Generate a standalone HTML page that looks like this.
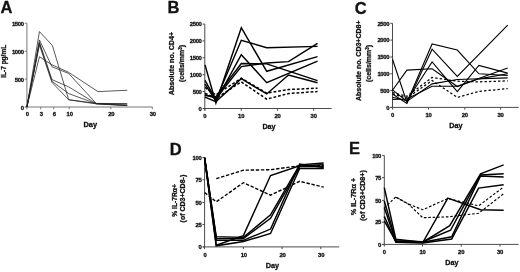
<!DOCTYPE html>
<html><head><meta charset="utf-8"><style>
html,body{margin:0;padding:0;background:#fff;}
body{width:520px;height:272px;overflow:hidden;}
svg{display:block;font-family:"Liberation Sans", sans-serif;will-change:transform;}
text{stroke:#111;stroke-width:0.3px;paint-order:stroke;}
</style></head><body>
<svg width="520" height="272" viewBox="0 0 520 272">
<rect width="520" height="272" fill="#fff"/>
<line x1="25.00" y1="107.00" x2="152.50" y2="107.00" stroke="#777" stroke-width="1"/>
<line x1="26.90" y1="23.20" x2="26.90" y2="107.40" stroke="#777" stroke-width="1"/>
<line x1="26.90" y1="107.00" x2="26.90" y2="109.20" stroke="#777" stroke-width="1"/>
<text x="27.40" y="115.70" font-size="5.9" text-anchor="middle" font-weight="bold" fill="#111" letter-spacing="-0.2">0</text>
<line x1="40.70" y1="107.00" x2="40.70" y2="109.20" stroke="#777" stroke-width="1"/>
<text x="41.20" y="115.70" font-size="5.9" text-anchor="middle" font-weight="bold" fill="#111" letter-spacing="-0.2">3</text>
<line x1="53.70" y1="107.00" x2="53.70" y2="109.20" stroke="#777" stroke-width="1"/>
<text x="54.20" y="115.70" font-size="5.9" text-anchor="middle" font-weight="bold" fill="#111" letter-spacing="-0.2">6</text>
<line x1="69.20" y1="107.00" x2="69.20" y2="109.20" stroke="#777" stroke-width="1"/>
<text x="69.70" y="115.70" font-size="5.9" text-anchor="middle" font-weight="bold" fill="#111" letter-spacing="-0.2">10</text>
<line x1="110.80" y1="107.00" x2="110.80" y2="109.20" stroke="#777" stroke-width="1"/>
<text x="111.30" y="115.70" font-size="5.9" text-anchor="middle" font-weight="bold" fill="#111" letter-spacing="-0.2">20</text>
<line x1="152.30" y1="107.00" x2="152.30" y2="109.20" stroke="#777" stroke-width="1"/>
<text x="152.80" y="115.70" font-size="5.9" text-anchor="middle" font-weight="bold" fill="#111" letter-spacing="-0.2">30</text>
<line x1="24.70" y1="107.00" x2="26.90" y2="107.00" stroke="#777" stroke-width="1"/>
<text x="23.80" y="109.90" font-size="5.9" text-anchor="end" font-weight="bold" fill="#111" letter-spacing="-0.3">0</text>
<line x1="24.70" y1="79.10" x2="26.90" y2="79.10" stroke="#777" stroke-width="1"/>
<text x="23.80" y="82.00" font-size="5.9" text-anchor="end" font-weight="bold" fill="#111" letter-spacing="-0.3">500</text>
<line x1="24.70" y1="51.30" x2="26.90" y2="51.30" stroke="#777" stroke-width="1"/>
<text x="23.80" y="54.20" font-size="5.9" text-anchor="end" font-weight="bold" fill="#111" letter-spacing="-0.3">1000</text>
<line x1="24.70" y1="23.20" x2="26.90" y2="23.20" stroke="#777" stroke-width="1"/>
<text x="23.80" y="26.10" font-size="5.9" text-anchor="end" font-weight="bold" fill="#111" letter-spacing="-0.3">1500</text>
<text x="6.50" y="13.00" font-size="16.5" text-anchor="middle" font-weight="bold" fill="#111">A</text>
<text x="90.30" y="127.00" font-size="7.4" text-anchor="middle" font-weight="bold" fill="#111">Day</text>
<text x="6.20" y="61.30" font-size="6.5" text-anchor="middle" font-weight="bold" fill="#111" transform="rotate(-90 6.2 61.3)">IL-7 pg/mL</text>
<polyline points="26.90,107.00 39.44,31.58 52.40,45.54 68.70,99.74 96.29,103.42 127.22,103.65" fill="none" stroke="#222" stroke-width="0.75" stroke-linejoin="miter" stroke-opacity="1"/>
<polyline points="26.90,107.00 39.44,56.72 51.98,64.82 68.70,72.36 97.96,91.64 127.22,90.24" fill="none" stroke="#222" stroke-width="0.75" stroke-linejoin="miter" stroke-opacity="1"/>
<polyline points="26.90,107.00 39.44,39.96 51.98,66.77 68.70,73.48 96.29,103.54 127.22,104.09" fill="none" stroke="#222" stroke-width="0.75" stroke-linejoin="miter" stroke-opacity="1"/>
<polyline points="26.90,107.00 39.44,42.19 51.98,79.62 68.70,86.89 96.29,103.65 127.22,105.21" fill="none" stroke="#222" stroke-width="0.75" stroke-linejoin="miter" stroke-opacity="1"/>
<polyline points="26.90,107.00 39.44,43.31 51.98,81.30 68.70,93.59 96.29,103.76 127.22,105.44" fill="none" stroke="#222" stroke-width="0.75" stroke-linejoin="miter" stroke-opacity="1"/>
<polyline points="26.90,107.00 39.44,44.98 51.98,82.42 68.70,99.74 96.29,103.87 127.22,105.66" fill="none" stroke="#222" stroke-width="0.75" stroke-linejoin="miter" stroke-opacity="1"/>
<line x1="202.90" y1="108.50" x2="331.60" y2="108.50" stroke="#4a4a4a" stroke-width="1"/>
<line x1="204.80" y1="24.10" x2="204.80" y2="110.60" stroke="#4a4a4a" stroke-width="1"/>
<line x1="204.80" y1="108.50" x2="204.80" y2="110.70" stroke="#4a4a4a" stroke-width="1"/>
<text x="204.80" y="118.20" font-size="5.9" text-anchor="middle" font-weight="bold" fill="#111" letter-spacing="-0.2">0</text>
<line x1="241.20" y1="108.50" x2="241.20" y2="110.70" stroke="#4a4a4a" stroke-width="1"/>
<text x="241.20" y="118.20" font-size="5.9" text-anchor="middle" font-weight="bold" fill="#111" letter-spacing="-0.2">10</text>
<line x1="277.50" y1="108.50" x2="277.50" y2="110.70" stroke="#4a4a4a" stroke-width="1"/>
<text x="277.50" y="118.20" font-size="5.9" text-anchor="middle" font-weight="bold" fill="#111" letter-spacing="-0.2">20</text>
<line x1="313.70" y1="108.50" x2="313.70" y2="110.70" stroke="#4a4a4a" stroke-width="1"/>
<text x="313.70" y="118.20" font-size="5.9" text-anchor="middle" font-weight="bold" fill="#111" letter-spacing="-0.2">30</text>
<line x1="202.60" y1="108.50" x2="204.80" y2="108.50" stroke="#4a4a4a" stroke-width="1"/>
<text x="201.60" y="110.70" font-size="5.9" text-anchor="end" font-weight="bold" fill="#111" letter-spacing="-0.3">0</text>
<line x1="202.60" y1="91.50" x2="204.80" y2="91.50" stroke="#4a4a4a" stroke-width="1"/>
<text x="201.60" y="93.70" font-size="5.9" text-anchor="end" font-weight="bold" fill="#111" letter-spacing="-0.3">500</text>
<line x1="202.60" y1="74.70" x2="204.80" y2="74.70" stroke="#4a4a4a" stroke-width="1"/>
<text x="201.60" y="76.90" font-size="5.9" text-anchor="end" font-weight="bold" fill="#111" letter-spacing="-0.3">1000</text>
<line x1="202.60" y1="57.80" x2="204.80" y2="57.80" stroke="#4a4a4a" stroke-width="1"/>
<text x="201.60" y="60.00" font-size="5.9" text-anchor="end" font-weight="bold" fill="#111" letter-spacing="-0.3">1500</text>
<line x1="202.60" y1="40.90" x2="204.80" y2="40.90" stroke="#4a4a4a" stroke-width="1"/>
<text x="201.60" y="43.10" font-size="5.9" text-anchor="end" font-weight="bold" fill="#111" letter-spacing="-0.3">2000</text>
<line x1="202.60" y1="24.10" x2="204.80" y2="24.10" stroke="#4a4a4a" stroke-width="1"/>
<text x="201.60" y="26.30" font-size="5.9" text-anchor="end" font-weight="bold" fill="#111" letter-spacing="-0.3">2500</text>
<text x="173.40" y="12.90" font-size="16.5" text-anchor="middle" font-weight="bold" fill="#111">B</text>
<text x="269.00" y="128.60" font-size="7.2" text-anchor="middle" font-weight="bold" fill="#111">Day</text>
<text x="174.20" y="63.60" font-size="7.1" text-anchor="middle" font-weight="bold" fill="#111" transform="rotate(-90 174.2 63.6)">Absolute no. CD4+</text>
<text x="183.60" y="63.50" font-size="7.0" text-anchor="middle" font-weight="bold" fill="#111" transform="rotate(-90 183.6 63.5)">(cells/mm<tspan font-size="4.5" dy="-2">3</tspan><tspan dy="2">)</tspan></text>
<polyline points="205.00,64.90 215.89,103.00 241.30,27.74 266.71,71.31 317.53,56.67" fill="none" stroke="#000" stroke-width="1.45" stroke-linejoin="miter" stroke-opacity="1"/>
<polyline points="205.00,80.41 215.89,99.97 241.30,40.29 266.71,47.70 317.53,46.36" fill="none" stroke="#000" stroke-width="1.45" stroke-linejoin="miter" stroke-opacity="1"/>
<polyline points="205.00,84.12 215.89,100.98 241.30,54.68 266.71,82.64 317.53,61.09" fill="none" stroke="#000" stroke-width="1.45" stroke-linejoin="miter" stroke-opacity="1"/>
<polyline points="205.00,94.57 215.89,98.28 241.30,66.59 266.71,63.05 288.49,61.60 317.53,43.32" fill="none" stroke="#000" stroke-width="1.45" stroke-linejoin="miter" stroke-opacity="1"/>
<polyline points="205.00,95.59 215.89,96.60 241.30,63.55 266.71,63.89 317.53,80.65" fill="none" stroke="#000" stroke-width="1.45" stroke-linejoin="miter" stroke-opacity="1"/>
<polyline points="205.00,97.10 215.89,101.66 241.30,78.73 266.71,93.97 288.49,75.02 317.53,82.71" fill="none" stroke="#000" stroke-width="1.45" stroke-linejoin="miter" stroke-opacity="1"/>
<polyline points="205.00,87.49 215.89,94.91 241.30,78.22 266.71,93.06 288.49,89.52 317.53,88.17" fill="none" stroke="#000" stroke-width="1.5" stroke-dasharray="2.8,1.9" stroke-linejoin="miter" stroke-opacity="1"/>
<polyline points="205.00,93.23 215.89,98.28 241.30,81.93 266.71,99.13 288.49,93.56 317.53,91.47" fill="none" stroke="#000" stroke-width="1.5" stroke-dasharray="2.8,1.9" stroke-linejoin="miter" stroke-opacity="1"/>
<line x1="390.40" y1="107.40" x2="518.70" y2="107.40" stroke="#4a4a4a" stroke-width="1"/>
<line x1="392.50" y1="23.30" x2="392.50" y2="107.80" stroke="#4a4a4a" stroke-width="1"/>
<line x1="392.60" y1="107.40" x2="392.60" y2="109.60" stroke="#4a4a4a" stroke-width="1"/>
<text x="392.60" y="117.10" font-size="5.9" text-anchor="middle" font-weight="bold" fill="#111" letter-spacing="-0.2">0</text>
<line x1="428.50" y1="107.40" x2="428.50" y2="109.60" stroke="#4a4a4a" stroke-width="1"/>
<text x="428.50" y="117.10" font-size="5.9" text-anchor="middle" font-weight="bold" fill="#111" letter-spacing="-0.2">10</text>
<line x1="464.80" y1="107.40" x2="464.80" y2="109.60" stroke="#4a4a4a" stroke-width="1"/>
<text x="464.80" y="117.10" font-size="5.9" text-anchor="middle" font-weight="bold" fill="#111" letter-spacing="-0.2">20</text>
<line x1="500.60" y1="107.40" x2="500.60" y2="109.60" stroke="#4a4a4a" stroke-width="1"/>
<text x="500.60" y="117.10" font-size="5.9" text-anchor="middle" font-weight="bold" fill="#111" letter-spacing="-0.2">30</text>
<line x1="390.30" y1="107.40" x2="392.50" y2="107.40" stroke="#4a4a4a" stroke-width="1"/>
<text x="389.30" y="109.60" font-size="5.9" text-anchor="end" font-weight="bold" fill="#111" letter-spacing="-0.3">0</text>
<line x1="390.30" y1="90.60" x2="392.50" y2="90.60" stroke="#4a4a4a" stroke-width="1"/>
<text x="389.30" y="92.80" font-size="5.9" text-anchor="end" font-weight="bold" fill="#111" letter-spacing="-0.3">500</text>
<line x1="390.30" y1="73.80" x2="392.50" y2="73.80" stroke="#4a4a4a" stroke-width="1"/>
<text x="389.30" y="76.00" font-size="5.9" text-anchor="end" font-weight="bold" fill="#111" letter-spacing="-0.3">1000</text>
<line x1="390.30" y1="57.00" x2="392.50" y2="57.00" stroke="#4a4a4a" stroke-width="1"/>
<text x="389.30" y="59.20" font-size="5.9" text-anchor="end" font-weight="bold" fill="#111" letter-spacing="-0.3">1500</text>
<line x1="390.30" y1="40.10" x2="392.50" y2="40.10" stroke="#4a4a4a" stroke-width="1"/>
<text x="389.30" y="42.30" font-size="5.9" text-anchor="end" font-weight="bold" fill="#111" letter-spacing="-0.3">2000</text>
<line x1="390.30" y1="23.30" x2="392.50" y2="23.30" stroke="#4a4a4a" stroke-width="1"/>
<text x="389.30" y="25.50" font-size="5.9" text-anchor="end" font-weight="bold" fill="#111" letter-spacing="-0.3">2500</text>
<text x="360.80" y="13.70" font-size="16.5" text-anchor="middle" font-weight="bold" fill="#111">C</text>
<text x="455.90" y="128.20" font-size="7.2" text-anchor="middle" font-weight="bold" fill="#111">Day</text>
<text x="360.60" y="60.70" font-size="7" text-anchor="middle" font-weight="bold" fill="#111" transform="rotate(-90 360.6 60.7)">Absolute no. CD3+CD8+</text>
<text x="371.40" y="63.40" font-size="7" text-anchor="middle" font-weight="bold" fill="#111" transform="rotate(-90 371.4 63.4)">(cells/mm<tspan font-size="4.5" dy="-2">3</tspan><tspan dy="2">)</tspan></text>
<polyline points="392.50,59.28 406.90,102.36 432.10,44.00 457.30,50.01 478.90,73.80 507.70,75.48" fill="none" stroke="#000" stroke-width="1.1" stroke-linejoin="miter" stroke-opacity="1"/>
<polyline points="392.50,93.96 406.90,103.37 432.10,49.20 457.30,76.49 507.70,25.08" fill="none" stroke="#000" stroke-width="1.1" stroke-linejoin="miter" stroke-opacity="1"/>
<polyline points="392.50,90.26 406.90,70.10 432.10,68.76 457.30,86.57 478.90,78.84 507.70,73.80" fill="none" stroke="#000" stroke-width="1.1" stroke-linejoin="miter" stroke-opacity="1"/>
<polyline points="392.50,97.32 406.90,100.68 432.10,62.01 457.30,91.54 478.90,65.40 507.70,73.13" fill="none" stroke="#000" stroke-width="1.1" stroke-linejoin="miter" stroke-opacity="1"/>
<polyline points="392.50,99.34 406.90,99.00 432.10,86.23 457.30,86.23 507.70,68.02" fill="none" stroke="#000" stroke-width="1.1" stroke-linejoin="miter" stroke-opacity="1"/>
<polyline points="392.50,89.93 406.90,101.35 432.10,83.88 457.30,79.51 507.70,77.83" fill="none" stroke="#000" stroke-width="1.1" stroke-linejoin="miter" stroke-opacity="1"/>
<polyline points="392.50,92.52 406.90,96.31 432.10,77.50 457.30,81.19 478.90,81.86 507.70,80.86" fill="none" stroke="#000" stroke-width="1.25" stroke-dasharray="2.4,2.1" stroke-linejoin="miter" stroke-opacity="1"/>
<polyline points="392.50,93.96 406.90,97.99 432.10,80.52 457.30,97.39 478.90,91.41 507.70,88.58" fill="none" stroke="#000" stroke-width="1.25" stroke-dasharray="2.4,2.1" stroke-linejoin="miter" stroke-opacity="1"/>
<line x1="203.00" y1="246.90" x2="339.20" y2="246.90" stroke="#4a4a4a" stroke-width="1"/>
<line x1="204.60" y1="157.60" x2="204.60" y2="247.30" stroke="#4a4a4a" stroke-width="1"/>
<line x1="204.60" y1="246.90" x2="204.60" y2="249.10" stroke="#4a4a4a" stroke-width="1"/>
<text x="205.00" y="256.60" font-size="5.9" text-anchor="middle" font-weight="bold" fill="#111" letter-spacing="-0.2">0</text>
<line x1="243.40" y1="246.90" x2="243.40" y2="249.10" stroke="#4a4a4a" stroke-width="1"/>
<text x="243.80" y="256.60" font-size="5.9" text-anchor="middle" font-weight="bold" fill="#111" letter-spacing="-0.2">10</text>
<line x1="282.10" y1="246.90" x2="282.10" y2="249.10" stroke="#4a4a4a" stroke-width="1"/>
<text x="282.50" y="256.60" font-size="5.9" text-anchor="middle" font-weight="bold" fill="#111" letter-spacing="-0.2">20</text>
<line x1="320.80" y1="246.90" x2="320.80" y2="249.10" stroke="#4a4a4a" stroke-width="1"/>
<text x="321.20" y="256.60" font-size="5.9" text-anchor="middle" font-weight="bold" fill="#111" letter-spacing="-0.2">30</text>
<line x1="202.40" y1="246.90" x2="204.60" y2="246.90" stroke="#4a4a4a" stroke-width="1"/>
<text x="201.40" y="249.10" font-size="5.9" text-anchor="end" font-weight="bold" fill="#111" letter-spacing="-0.3">0</text>
<line x1="202.40" y1="224.60" x2="204.60" y2="224.60" stroke="#4a4a4a" stroke-width="1"/>
<text x="201.40" y="226.80" font-size="5.9" text-anchor="end" font-weight="bold" fill="#111" letter-spacing="-0.3">25</text>
<line x1="202.40" y1="202.50" x2="204.60" y2="202.50" stroke="#4a4a4a" stroke-width="1"/>
<text x="201.40" y="204.70" font-size="5.9" text-anchor="end" font-weight="bold" fill="#111" letter-spacing="-0.3">50</text>
<line x1="202.40" y1="179.80" x2="204.60" y2="179.80" stroke="#4a4a4a" stroke-width="1"/>
<text x="201.40" y="182.00" font-size="5.9" text-anchor="end" font-weight="bold" fill="#111" letter-spacing="-0.3">75</text>
<line x1="202.40" y1="157.60" x2="204.60" y2="157.60" stroke="#4a4a4a" stroke-width="1"/>
<text x="201.40" y="159.80" font-size="5.9" text-anchor="end" font-weight="bold" fill="#111" letter-spacing="-0.3">100</text>
<text x="175.80" y="154.50" font-size="16.5" text-anchor="middle" font-weight="bold" fill="#111">D</text>
<text x="272.50" y="268.40" font-size="7.3" text-anchor="middle" font-weight="bold" fill="#111">Day</text>
<text x="176.80" y="200.40" font-size="6.7" text-anchor="middle" font-weight="bold" fill="#111" transform="rotate(-90 176.8 200.4)">% IL-7R&#945;+</text>
<text x="185.50" y="198.60" font-size="7" text-anchor="middle" font-weight="bold" fill="#111" transform="rotate(-90 185.5 198.6)">(of CD3+CD8-)</text>
<polyline points="204.60,157.70 216.24,245.21 243.40,235.57 270.56,175.54 299.66,165.73 323.72,164.84" fill="none" stroke="#000" stroke-width="1.45" stroke-linejoin="miter" stroke-opacity="1"/>
<polyline points="204.60,157.70 216.24,236.64 243.40,237.36 270.56,214.79 299.66,164.84 323.72,163.05" fill="none" stroke="#000" stroke-width="1.45" stroke-linejoin="miter" stroke-opacity="1"/>
<polyline points="204.60,157.70 216.24,238.43 243.40,238.43 270.56,218.36 299.66,166.62 323.72,166.62" fill="none" stroke="#000" stroke-width="1.45" stroke-linejoin="miter" stroke-opacity="1"/>
<polyline points="204.60,158.15 216.24,240.30 243.40,240.30 270.56,229.06 299.66,163.94 323.72,167.51" fill="none" stroke="#000" stroke-width="1.45" stroke-linejoin="miter" stroke-opacity="1"/>
<polyline points="204.60,158.15 216.24,245.83 243.40,241.55 270.56,233.52 299.66,168.40 323.72,168.40" fill="none" stroke="#000" stroke-width="1.45" stroke-linejoin="miter" stroke-opacity="1"/>
<polyline points="216.24,178.57 243.40,170.19 270.56,169.74 299.66,165.73 323.72,165.73" fill="none" stroke="#000" stroke-width="1.4" stroke-dasharray="3.4,1.7" stroke-linejoin="miter" stroke-opacity="1"/>
<polyline points="204.60,192.49 216.24,201.85 243.40,182.68 270.56,195.16 299.66,181.34 323.72,187.14" fill="none" stroke="#000" stroke-width="1.4" stroke-dasharray="3.4,1.7" stroke-linejoin="miter" stroke-opacity="1"/>
<line x1="382.20" y1="244.40" x2="518.60" y2="244.40" stroke="#4a4a4a" stroke-width="1"/>
<line x1="384.30" y1="155.40" x2="384.30" y2="244.80" stroke="#4a4a4a" stroke-width="1"/>
<line x1="384.30" y1="244.40" x2="384.30" y2="246.60" stroke="#4a4a4a" stroke-width="1"/>
<text x="384.30" y="254.10" font-size="5.9" text-anchor="middle" font-weight="bold" fill="#111" letter-spacing="-0.2">0</text>
<line x1="422.50" y1="244.40" x2="422.50" y2="246.60" stroke="#4a4a4a" stroke-width="1"/>
<text x="422.50" y="254.10" font-size="5.9" text-anchor="middle" font-weight="bold" fill="#111" letter-spacing="-0.2">10</text>
<line x1="461.20" y1="244.40" x2="461.20" y2="246.60" stroke="#4a4a4a" stroke-width="1"/>
<text x="461.20" y="254.10" font-size="5.9" text-anchor="middle" font-weight="bold" fill="#111" letter-spacing="-0.2">20</text>
<line x1="500.00" y1="244.40" x2="500.00" y2="246.60" stroke="#4a4a4a" stroke-width="1"/>
<text x="500.00" y="254.10" font-size="5.9" text-anchor="middle" font-weight="bold" fill="#111" letter-spacing="-0.2">30</text>
<line x1="382.10" y1="244.40" x2="384.30" y2="244.40" stroke="#4a4a4a" stroke-width="1"/>
<text x="381.10" y="246.60" font-size="5.9" text-anchor="end" font-weight="bold" fill="#111" letter-spacing="-0.3">0</text>
<line x1="382.10" y1="222.20" x2="384.30" y2="222.20" stroke="#4a4a4a" stroke-width="1"/>
<text x="381.10" y="224.40" font-size="5.9" text-anchor="end" font-weight="bold" fill="#111" letter-spacing="-0.3">25</text>
<line x1="382.10" y1="200.40" x2="384.30" y2="200.40" stroke="#4a4a4a" stroke-width="1"/>
<text x="381.10" y="202.60" font-size="5.9" text-anchor="end" font-weight="bold" fill="#111" letter-spacing="-0.3">50</text>
<line x1="382.10" y1="177.60" x2="384.30" y2="177.60" stroke="#4a4a4a" stroke-width="1"/>
<text x="381.10" y="179.80" font-size="5.9" text-anchor="end" font-weight="bold" fill="#111" letter-spacing="-0.3">75</text>
<line x1="382.10" y1="155.40" x2="384.30" y2="155.40" stroke="#4a4a4a" stroke-width="1"/>
<text x="381.10" y="157.60" font-size="5.9" text-anchor="end" font-weight="bold" fill="#111" letter-spacing="-0.3">100</text>
<text x="354.60" y="154.20" font-size="16.5" text-anchor="middle" font-weight="bold" fill="#111">E</text>
<text x="451.80" y="265.20" font-size="7.2" text-anchor="middle" font-weight="bold" fill="#111">Day</text>
<text x="356.30" y="196.50" font-size="7.3" text-anchor="middle" font-weight="bold" fill="#111" transform="rotate(-90 356.3 196.5)">% IL-7R&#945; +</text>
<text x="365.50" y="195.40" font-size="7.2" text-anchor="middle" font-weight="bold" fill="#111" transform="rotate(-90 365.5 195.4)">(of CD3+CD8+)</text>
<polyline points="384.30,187.68 395.85,239.24 422.80,242.18 449.75,225.73 480.55,173.81 503.65,164.92" fill="none" stroke="#000" stroke-width="1.45" stroke-linejoin="miter" stroke-opacity="1"/>
<polyline points="384.30,201.02 395.85,240.84 422.80,241.73 450.52,230.26 480.55,175.06 503.65,173.81" fill="none" stroke="#000" stroke-width="1.45" stroke-linejoin="miter" stroke-opacity="1"/>
<polyline points="384.30,207.60 395.85,241.73 422.80,242.18 451.68,236.75 480.55,175.95 503.65,177.01" fill="none" stroke="#000" stroke-width="1.45" stroke-linejoin="miter" stroke-opacity="1"/>
<polyline points="384.30,216.40 395.85,242.27 422.80,243.07 451.68,239.07 478.62,188.13 503.65,184.84" fill="none" stroke="#000" stroke-width="1.45" stroke-linejoin="miter" stroke-opacity="1"/>
<polyline points="384.30,220.84 395.85,241.29 422.80,242.62 447.82,198.17 480.55,209.73 503.65,210.17" fill="none" stroke="#000" stroke-width="1.45" stroke-linejoin="miter" stroke-opacity="1"/>
<polyline points="384.30,207.95 395.85,196.84 408.17,203.95 422.80,209.73 447.82,198.53 478.62,205.82 503.65,186.97" fill="none" stroke="#000" stroke-width="1.15" stroke-dasharray="2.6,1.8" stroke-linejoin="miter" stroke-opacity="1"/>
<polyline points="395.85,197.28 408.17,203.95 422.80,217.73 447.82,216.84 478.62,213.28 503.65,193.73" fill="none" stroke="#000" stroke-width="1.15" stroke-dasharray="2.6,1.8" stroke-linejoin="miter" stroke-opacity="1"/>
</svg>
</body></html>
